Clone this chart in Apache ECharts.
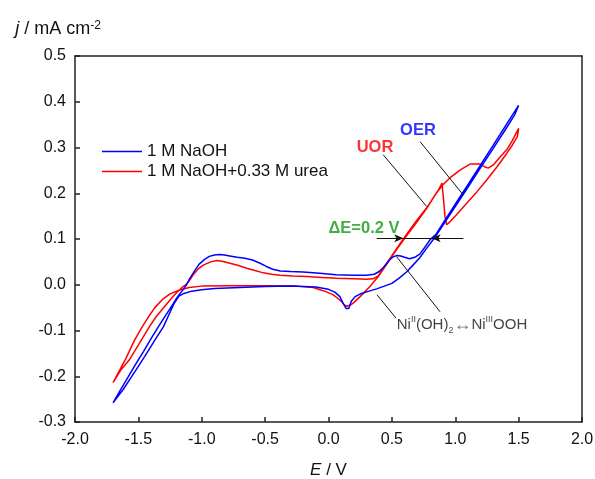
<!DOCTYPE html>
<html>
<head>
<meta charset="utf-8">
<script src="https://cdn.jsdelivr.net/npm/echarts@6/dist/echarts.min.js"></script>
<style>
  html, body { margin: 0; padding: 0; background: #fff; }
  #chart { width: 595px; height: 479px; }
</style>
</head>
<body>
<div id="chart"></div>
<script>
// 1 M NaOH, anodic sweep then cathodic return (E / V, j / mA cm-2)
var blueE = [-1.70, -1.64, -1.579, -1.52, -1.46, -1.40, -1.343, -1.29, -1.25, -1.22, -1.19, -1.16, -1.14, -1.12, -1.10, -1.08, -1.05, -1.02, -0.98, -0.94, -0.90, -0.86, -0.82, -0.78, -0.72, -0.66, -0.60, -0.54, -0.49, -0.44, -0.38, -0.30, -0.20, -0.07, 0.06, 0.20, 0.30, 0.36, 0.40, 0.44, 0.48, 0.51, 0.54, 0.57, 0.60, 0.64, 0.68, 0.72, 0.76, 0.80, 0.85, 0.90, 1.00, 1.10, 1.20, 1.30, 1.40, 1.50,
             1.47, 1.40, 1.30, 1.20, 1.10, 1.00, 0.90, 0.83, 0.775, 0.72, 0.67, 0.62, 0.56, 0.50, 0.44, 0.38, 0.32, 0.26, 0.21, 0.18, 0.16, 0.14, 0.115, 0.09, 0.05, 0.00, -0.10, -0.30, -0.50, -0.70, -0.90, -1.00, -1.08, -1.14, -1.18, -1.22, -1.26, -1.303, -1.37, -1.43, -1.49, -1.553, -1.62, -1.70];
var blueJ = [-0.258, -0.229, -0.201, -0.173, -0.146, -0.118, -0.092, -0.069, -0.052, -0.039, -0.026, -0.015, -0.008, 0.000, 0.011, 0.020, 0.033, 0.045, 0.055, 0.062, 0.065, 0.066, 0.065, 0.063, 0.060, 0.058, 0.054, 0.047, 0.040, 0.034, 0.030, 0.029, 0.028, 0.025, 0.022, 0.021, 0.021, 0.023, 0.029, 0.040, 0.054, 0.061, 0.064, 0.063, 0.060, 0.057, 0.060, 0.067, 0.082, 0.098, 0.111, 0.133, 0.176, 0.219, 0.262, 0.305, 0.349, 0.392,
             0.372, 0.341, 0.298, 0.256, 0.213, 0.171, 0.129, 0.100, 0.080, 0.059, 0.044, 0.029, 0.015, 0.003, -0.003, -0.009, -0.014, -0.019, -0.026, -0.036, -0.052, -0.052, -0.040, -0.026, -0.016, -0.010, -0.005, -0.003, -0.004, -0.006, -0.008, -0.011, -0.014, -0.019, -0.025, -0.042, -0.066, -0.092, -0.121, -0.148, -0.174, -0.201, -0.229, -0.258];

// 1 M NaOH + 0.33 M urea
var redE = [-1.70, -1.64, -1.571, -1.49, -1.414, -1.36, -1.316, -1.27, -1.23, -1.19, -1.16, -1.13, -1.11, -1.09, -1.067, -1.03, -0.988, -0.93, -0.88, -0.83, -0.777, -0.71, -0.645, -0.58, -0.514, -0.45, -0.383, -0.28, -0.172, -0.05, 0.065, 0.20, 0.30, 0.35, 0.39, 0.46, 0.54, 0.60, 0.70, 0.78, 0.85, 0.90, 0.96, 1.04, 1.12, 1.195, 1.23, 1.26, 1.30, 1.35, 1.406, 1.45, 1.50,
            1.49, 1.45, 1.406, 1.33, 1.248, 1.17, 1.09, 1.01, 0.96, 0.932, 0.919, 0.906, 0.895, 0.885, 0.866, 0.82, 0.775, 0.70, 0.60, 0.54, 0.46, 0.393, 0.327, 0.249, 0.20, 0.17, 0.143, 0.12, 0.104, 0.07, 0.038, -0.02, -0.067, -0.12, -0.25, -0.50, -0.80, -1.00, -1.10, -1.18, -1.25, -1.31, -1.37, -1.42, -1.47, -1.53, -1.60, -1.70];
var redJ = [-0.214, -0.187, -0.164, -0.127, -0.092, -0.070, -0.055, -0.040, -0.027, -0.015, -0.007, -0.001, 0.005, 0.012, 0.022, 0.034, 0.043, 0.050, 0.053, 0.051, 0.047, 0.042, 0.036, 0.031, 0.026, 0.023, 0.021, 0.019, 0.018, 0.016, 0.014, 0.013, 0.012, 0.013, 0.019, 0.047, 0.080, 0.104, 0.142, 0.170, 0.200, 0.218, 0.234, 0.251, 0.264, 0.264, 0.258, 0.255, 0.262, 0.278, 0.295, 0.315, 0.342,
            0.324, 0.305, 0.287, 0.258, 0.229, 0.203, 0.178, 0.153, 0.138, 0.131, 0.149, 0.192, 0.222, 0.216, 0.207, 0.187, 0.167, 0.138, 0.101, 0.078, 0.045, 0.018, -0.004, -0.026, -0.039, -0.045, -0.047, -0.043, -0.037, -0.029, -0.022, -0.015, -0.011, -0.006, -0.003, -0.002, -0.002, -0.003, -0.006, -0.012, -0.020, -0.032, -0.050, -0.070, -0.092, -0.121, -0.162, -0.214];

var seriesNames = ['1 M NaOH', '1 M NaOH+0.33 M urea'];

// pointer lines [[E1, j1], [E2, j2]]
var uorPointer = [[0.432, 0.284], [0.775, 0.171]];
var oerPointer = [[0.722, 0.313], [1.064, 0.196]];
var niPointer1 = [[0.383, -0.022], [0.533, -0.073]];
var niPointer2 = [[0.538, 0.061], [0.880, -0.059]];
// ΔE bar: left end, left arrow tip, right arrow tip, right end
var deltaE = [0.38, 0.59, 0.814, 1.064];
var deltaJ = 0.1015;

var noteText = ['UOR', 'OER', 'ΔE=0.2 V', 'Ni{sup|II}(OH){sub|2}{arr|↔}Ni{sup|III}OOH'];
var notePos = [[0.367, 0.301], [0.706, 0.338], [0.28, 0.124], [1.053, -0.088]];
var noteColor = ['#ff0000', '#0000ff', '#129a12', '#111111'];

var FONT = 'Liberation Sans, Arial, sans-serif';

function pairs(E, J) {
    return E.map(function (e, i) { return [e, J[i]]; });
}

function seg(p, q, arrow) {
    return [
        {coord: p, symbol: 'none'},
        {coord: q, symbol: arrow ? 'arrow' : 'none', symbolSize: [6, 9]}
    ];
}

var chart = echarts.init(document.getElementById('chart'));

var axisLineStyle = {color: '#222', width: 1.5};

var option = {
    animation: false,
    grid: {left: 75, right: 13, top: 56, bottom: 57, containLabel: false, outerBoundsMode: 'none'},
    legend: {
        data: seriesNames,
        orient: 'vertical',
        left: 97,
        top: 138,
        icon: 'rect',
        itemWidth: 40,
        itemHeight: 1.5,
        itemGap: 3,
        textStyle: {fontFamily: FONT, fontSize: 17, color: '#111'}
    },
    xAxis: [{
        type: 'value',
        min: -2.0,
        max: 2.0,
        interval: 0.5,
        name: '{i|E} / V',
        nameLocation: 'middle',
        nameGap: 40,
        nameTextStyle: {
            fontFamily: FONT, fontSize: 17, color: '#111',
            rich: {i: {fontFamily: FONT, fontSize: 17, fontStyle: 'italic', color: '#111'}}
        },
        axisLine: {show: true, onZero: false, lineStyle: axisLineStyle},
        axisTick: {show: true, inside: true, length: 5, lineStyle: axisLineStyle},
        axisLabel: {
            margin: 10, fontFamily: FONT, fontSize: 16, color: '#111',
            formatter: function (v) { return v.toFixed(1); }
        },
        splitLine: {show: false}
    }, {
        type: 'value',
        position: 'top',
        min: -2.0,
        max: 2.0,
        axisLine: {show: true, onZero: false, lineStyle: axisLineStyle},
        axisTick: {show: false},
        axisLabel: {show: false},
        splitLine: {show: false}
    }],
    yAxis: [{
        type: 'value',
        min: -0.3,
        max: 0.5,
        interval: 0.1,
        name: '{i|j} / mA cm{sup|-2}',
        nameLocation: 'end',
        nameGap: 18,
        nameTextStyle: {
            fontFamily: FONT, fontSize: 18, color: '#111',
            align: 'center',
            padding: [0, 34, 0, 0],
            rich: {
                i: {fontFamily: FONT, fontSize: 18, fontStyle: 'italic', color: '#111'},
                sup: {fontFamily: FONT, fontSize: 12, color: '#111', verticalAlign: 'top'}
            }
        },
        axisLine: {show: true, onZero: false, lineStyle: axisLineStyle},
        axisTick: {show: true, inside: true, length: 5, lineStyle: axisLineStyle},
        axisLabel: {
            margin: 9, fontFamily: FONT, fontSize: 16, color: '#111',
            formatter: function (v) { return v.toFixed(1); }
        },
        splitLine: {show: false}
    }, {
        type: 'value',
        position: 'right',
        min: -0.3,
        max: 0.5,
        axisLine: {show: true, onZero: false, lineStyle: axisLineStyle},
        axisTick: {show: false},
        axisLabel: {show: false},
        splitLine: {show: false}
    }],
    series: [
        {
            name: seriesNames[1],
            type: 'line',
            data: pairs(redE, redJ),
            showSymbol: false,
            lineStyle: {color: '#ff0000', width: 1.5},
            itemStyle: {color: '#ff0000'},
            z: 3
        },
        {
            name: seriesNames[0],
            type: 'line',
            data: pairs(blueE, blueJ),
            showSymbol: false,
            lineStyle: {color: '#0000ff', width: 1.5},
            itemStyle: {color: '#0000ff'},
            z: 4
        },
        {
            name: 'pointers',
            type: 'line',
            data: [],
            markLine: {
                silent: true,
                animation: false,
                symbol: ['none', 'none'],
                label: {show: false},
                lineStyle: {color: '#111', width: 1, type: 'solid'},
                emphasis: {disabled: true},
                data: [
                    seg(uorPointer[0], uorPointer[1], false),
                    seg(oerPointer[0], oerPointer[1], false),
                    seg(niPointer1[0], niPointer1[1], false),
                    seg(niPointer2[0], niPointer2[1], false),
                    seg([deltaE[0], deltaJ], [deltaE[1], deltaJ], true),
                    seg([deltaE[1], deltaJ], [deltaE[2], deltaJ], false),
                    seg([deltaE[3], deltaJ], [deltaE[2], deltaJ], true)
                ]
            },
            z: 5
        },
        {
            name: 'notes',
            type: 'scatter',
            symbolSize: 1,
            itemStyle: {color: 'rgba(0,0,0,0)'},
            silent: true,
            data: notePos.map(function (p, i) {
                return {
                    value: p,
                    label: {
                        color: noteColor[i],
                        fontWeight: i < 3 ? 'bold' : 'normal',
                        fontSize: i < 3 ? 16.5 : 15
                    }
                };
            }),
            label: {
                show: true,
                position: 'inside',
                fontFamily: FONT,
                lineHeight: 20,
                formatter: function (p) { return noteText[p.dataIndex]; },
                rich: {
                    sup: {fontFamily: FONT, fontSize: 9, color: '#111', verticalAlign: 'top'},
                    sub: {fontFamily: FONT, fontSize: 9, color: '#111', verticalAlign: 'bottom'},
                    arr: {fontFamily: FONT, fontSize: 18, color: '#555'}
                }
            },
            z: 6
        }
    ]
};

chart.setOption(option);
window.addEventListener('resize', chart.resize);
</script>
</body>
</html>
